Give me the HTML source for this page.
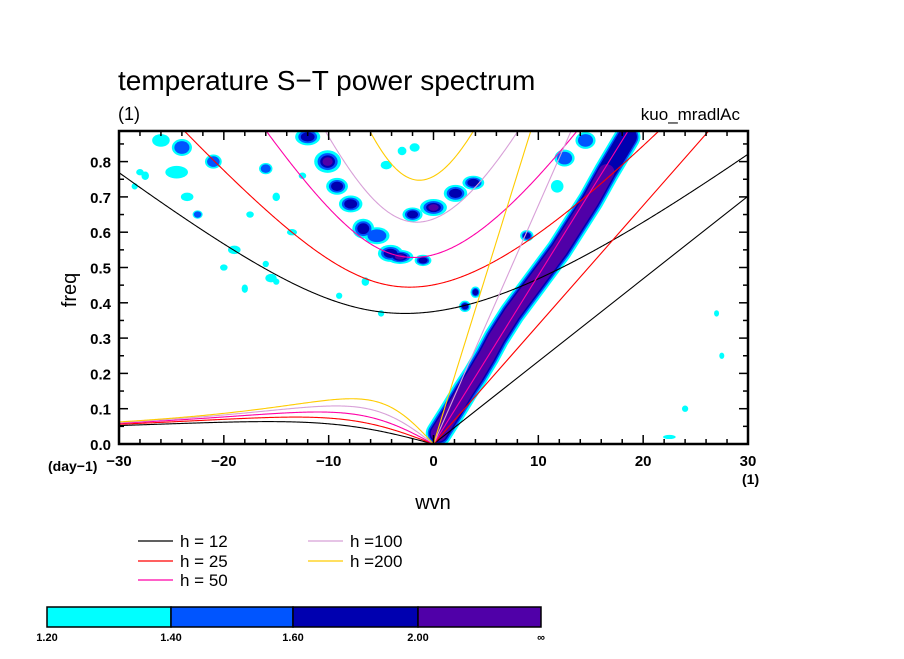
<!DOCTYPE html>
<html><head><meta charset="utf-8">
<style>
html,body{margin:0;padding:0;background:#fff;}
svg text{font-family:"Liberation Sans",sans-serif;fill:#000;}
</style></head>
<body>
<svg id="chart" width="904" height="654" viewBox="0 0 904 654" xmlns="http://www.w3.org/2000/svg">
<defs><clipPath id="clip"><rect x="119" y="131" width="629" height="313"/></clipPath></defs>
<text x="118" y="90" font-size="28">temperature S−T power spectrum</text>
<text x="118" y="120" font-size="18">(1)</text>
<text x="740" y="120" font-size="17" text-anchor="end">kuo_mradlAc</text>
<g id="blobs" clip-path="url(#clip)"></g>
<g id="curves" clip-path="url(#clip)"></g>
<rect x="119" y="131" width="629" height="313" fill="none" stroke="#000" stroke-width="2.5"/>
<g id="axes"></g>
<text x="0" y="0" font-size="20" transform="translate(76,290) rotate(-90)" text-anchor="middle">freq</text>
<text x="433" y="509" font-size="20" text-anchor="middle">wvn</text>
<text x="48" y="471" font-size="14" font-weight="bold">(day−1)</text>
<text x="742" y="484" font-size="14" font-weight="bold">(1)</text>
<g id="legend"></g>
<g id="colorbar"></g>
</svg>
<script>
const hValues=[12,25,50,100,200];
const hColors=["#000000","#ff0000","#ff00a8","#d8a0d8","#ffcc00"];
const xTicks=[-30,-20,-10,0,10,20,30];
const yTicks=[0,0.1,0.2,0.3,0.4,0.5,0.6,0.7,0.8];
const cbLevels=["1.20","1.40","1.60","2.00","∞"];
const cbColors=["#00ffff","#0055ff","#0000b0","#5000a8"];
// Kelvin-band ridge (wvn, freq)
const ridgeWvn=[0.5,1.9,3.0,4.0,5.1,6.0,7.5,9.0,10.5,12.0,13.5,15.0,16.5,17.5,18.5];
const ridgeFreq=[0.03,0.096,0.15,0.195,0.25,0.30,0.37,0.43,0.49,0.55,0.62,0.69,0.77,0.82,0.87];
const ridgeLevel=[4,4,4,4,4,4,4,4,4,4,4,4,4,3,3];
// isolated blobs: wvn, freq, half-width (wvn), half-height (freq), level 1-4
const blobWvn=[-12.0,-10.1,-9.2,-7.9,-6.7,-5.4,-4.1,-3.2,-1.0,-2.0,0.0,2.1,3.8,8.9,4.0,3.0,11.8,-24.0,-26.0,-21.0,-24.5,-28.0,-23.5,-27.5,-22.5,-16.0,-17.5,-12.5,-15.0,-13.5,-19.0,-15.5,-16.0,-20.0,-18.0,-15.0,-6.5,-3.0,-1.8,-4.5,27.5,24.0,22.5,27.0,-28.5,-9.0,-5.0,12.5,14.5];
const blobFreq=[0.87,0.80,0.73,0.68,0.61,0.59,0.54,0.53,0.52,0.65,0.67,0.71,0.74,0.59,0.43,0.39,0.73,0.84,0.86,0.80,0.77,0.77,0.70,0.76,0.65,0.78,0.65,0.76,0.70,0.60,0.55,0.47,0.51,0.50,0.44,0.46,0.46,0.83,0.84,0.79,0.25,0.10,0.02,0.37,0.73,0.42,0.37,0.81,0.86];
const blobRx=[1.5,1.6,1.3,1.4,1.3,1.5,1.5,1.6,1.0,1.2,1.6,1.4,1.3,0.8,0.6,0.7,1.0,1.2,1.4,1.0,1.8,0.6,1.0,0.6,0.6,0.8,0.6,0.6,0.6,0.8,1.0,0.9,0.5,0.6,0.5,0.5,0.6,0.7,0.8,0.9,0.4,0.5,1.0,0.4,0.5,0.5,0.5,1.2,1.2];
const blobRy=[0.03,0.04,0.03,0.03,0.035,0.03,0.03,0.025,0.02,0.025,0.03,0.03,0.025,0.02,0.02,0.02,0.03,0.03,0.03,0.025,0.03,0.015,0.02,0.02,0.015,0.02,0.015,0.015,0.02,0.015,0.02,0.02,0.015,0.015,0.02,0.015,0.02,0.02,0.02,0.02,0.015,0.015,0.01,0.015,0.015,0.015,0.015,0.03,0.03];
const blobLevel=[3,4,3,3,3,2,3,4,3,3,4,3,3,3,3,3,1,2,1,2,1,1,1,1,2,2,1,1,1,1,1,1,1,1,1,1,1,1,1,1,1,1,1,1,1,1,1,2,2];

const NS="http://www.w3.org/2000/svg";
const X0=119,X1=748,Y0=444,PY=353;
function xs(w){return X0+(w+30)*(X1-X0)/60;}
function ys(f){return Y0-f*PY;}
const PXW=(X1-X0)/60;
function mk(tag,attrs,parent){const e=document.createElementNS(NS,tag);for(const k in attrs)e.setAttribute(k,attrs[k]);parent.appendChild(e);return e;}

// contour blobs
const gB=document.getElementById('blobs');
const shrink=[1,0.75,0.55,0.38];
for(let lv=0;lv<4;lv++){
  for(let i=0;i<blobWvn.length;i++){
    if(blobLevel[i]<=lv)continue;
    const sc=(blobLevel[i]===1?0.6:0.8)*shrink[lv];
    const e=mk('ellipse',{cx:xs(blobWvn[i]),cy:ys(blobFreq[i]),rx:blobRx[i]*PXW*sc,ry:blobRy[i]*PY*sc,fill:cbColors[lv]},gB);
    
    
  }
  const widths=[26,22,19,16];
  let d="";
  for(let i=0;i<ridgeWvn.length;i++){if(ridgeLevel[i]>lv)d+=(d?"L":"M")+xs(ridgeWvn[i])+","+ys(ridgeFreq[i]);}
  if(d){const p=mk('path',{d:d,fill:"none",stroke:cbColors[lv],"stroke-width":widths[lv],"stroke-linecap":"round","stroke-linejoin":"round"},gB);
    
    }
}

// dispersion curves
const g=9.8,a=6.371e6,beta=2*7.292e-5/a,toCpd=86400/(2*Math.PI);
function roots(k,c){
  const p=-(c*c*k*k+3*beta*c),q=-beta*k*c*c;
  const r=2*Math.sqrt(-p/3);
  let arg=(3*q/(2*p))*Math.sqrt(-3/p);arg=Math.max(-1,Math.min(1,arg));
  const th=Math.acos(arg)/3;
  return [0,1,2].map(m=>r*Math.cos(th-2*Math.PI*m/3));
}
const gC=document.getElementById('curves');
hValues.forEach((h,hi)=>{
  const c=Math.sqrt(g*h);
  let dIG="",dER="";
  for(let w=-30;w<=30.001;w+=0.1){
    const k=w/a;const rs=roots(k,c).filter(v=>v>0).sort((u,v)=>u-v);
    const ig=rs[rs.length-1]*toCpd;
    dIG+=(dIG?"L":"M")+xs(w).toFixed(2)+","+ys(ig).toFixed(2);
    if(w<-0.05){const er=rs[0]*toCpd;dER+=(dER?"L":"M")+xs(w).toFixed(2)+","+ys(er).toFixed(2);}
  }
  dER+="L"+xs(0)+","+ys(0);
  const kel="M"+xs(0)+","+ys(0)+"L"+xs(30)+","+ys(c*(30/a)*toCpd);
  [["ig",dIG],["er",dER],["kelvin",kel]].forEach(([n,d])=>{
    const p=mk('path',{d:d,fill:"none",stroke:hColors[hi],"stroke-width":1.1},gC);
    
    
  });
});

// axes ticks
const gA=document.getElementById('axes');
for(let w=-30;w<=30;w+=2){
  const L=(w%10===0)?9:5;
  mk('line',{x1:xs(w),x2:xs(w),y1:Y0,y2:Y0-L,stroke:"#000","stroke-width":1.5},gA);
  mk('line',{x1:xs(w),x2:xs(w),y1:131,y2:131+L,stroke:"#000","stroke-width":1.5},gA);
}
for(let i=0;i<=17;i++){
  const f=i*0.05,L=(i%2===0)?9:5;
  mk('line',{x1:X0,x2:X0+L,y1:ys(f),y2:ys(f),stroke:"#000","stroke-width":1.5},gA);
  mk('line',{x1:X1,x2:X1-L,y1:ys(f),y2:ys(f),stroke:"#000","stroke-width":1.5},gA);
}
xTicks.forEach(w=>{
  const t=mk('text',{x:xs(w),y:Y0+22,"font-size":15,"font-weight":"bold","text-anchor":"middle"},gA);
  t.textContent=(w<0?"−":"")+Math.abs(w);
  
  
});
yTicks.forEach(f=>{
  const t=mk('text',{x:X0-8,y:ys(f)+6,"font-size":15,"font-weight":"bold","text-anchor":"end"},gA);
  t.textContent=f.toFixed(1);
  
  
});

// legend
const gL=document.getElementById('legend');
const legPos=[[138,541],[138,561],[138,580],[308,541],[308,561]];
const legText=["h = 12","h = 25","h = 50","h =100","h =200"];
hValues.forEach((h,i)=>{
  const [lx,ly]=legPos[i];
  const ln=mk('line',{x1:lx,x2:lx+35,y1:ly,y2:ly,stroke:hColors[i],"stroke-width":1.2},gL);
  
  
  const t=mk('text',{x:lx+42,y:ly+6,"font-size":17,"xml:space":"preserve"},gL);
  t.textContent=legText[i];
  
  
});

// colorbar
const gCB=document.getElementById('colorbar');
const cbX=[47,171,293,418,541];
for(let i=0;i<4;i++){
  const r=mk('rect',{x:cbX[i],y:607,width:cbX[i+1]-cbX[i],height:20,fill:cbColors[i],stroke:"#000","stroke-width":1.5},gCB);
  
  
}
cbLevels.forEach((s,i)=>{
  const t=mk('text',{x:cbX[i],y:641,"font-size":11,"font-weight":"bold","text-anchor":"middle"},gCB);
  t.textContent=s;
  
  
});
</script>
</body></html>
